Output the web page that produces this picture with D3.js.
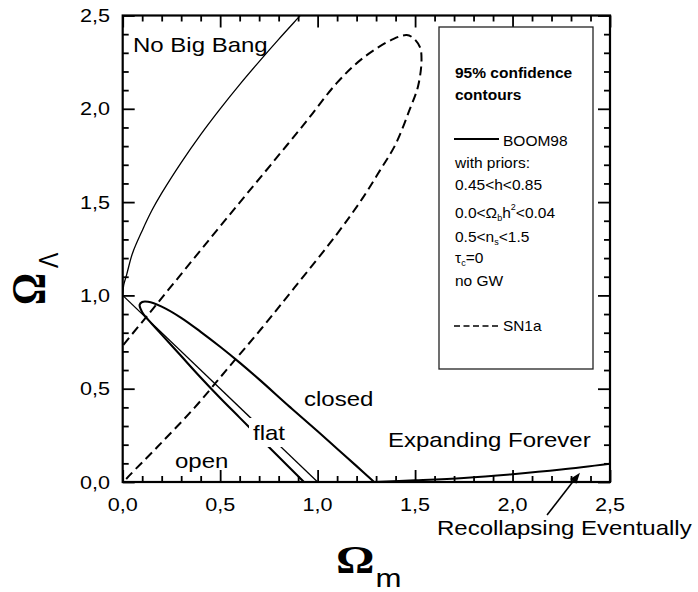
<!DOCTYPE html>
<html>
<head>
<meta charset="utf-8">
<script src="https://cdn.jsdelivr.net/npm/d3@7"></script>
<style>
  html, body { margin: 0; padding: 0; background: #fff; }
  svg { display: block; font-family: "Liberation Sans", Arial, sans-serif; }
</style>
</head>
<body>
<svg id="chart" width="698" height="592"></svg>
<script>
// ---- axis ticks ----
const majorTicks = [0, 0.5, 1.0, 1.5, 2.0, 2.5];
const minorTicks = [0.1, 0.2, 0.3, 0.4, 0.6, 0.7, 0.8, 0.9, 1.1, 1.2, 1.3, 1.4,
                    1.6, 1.7, 1.8, 1.9, 2.1, 2.2, 2.3, 2.4];
const xTickLabels = ["0,0", "0,5", "1,0", "1,5", "2,0", "2,5"];
const yTickLabels = ["0,0", "0,5", "1,0", "1,5", "2,0", "2,5"];

// ---- No Big Bang boundary (Ω_m, Ω_Λ) ----
const noBigBangM = [0, 0.005, 0.02, 0.05, 0.1, 0.15, 0.2, 0.3, 0.4, 0.5, 0.6, 0.7, 0.8, 0.9, 0.92];
const noBigBangL = [1.0, 1.055, 1.11, 1.225, 1.347, 1.456, 1.548, 1.712, 1.862, 2.0, 2.13, 2.253, 2.372, 2.487, 2.51];

// ---- flat universe line ----
const flatM = [0, 1];
const flatL = [1, 0];

// ---- Recollapse boundary ----
const recollapseM = [1.29, 1.5, 1.75, 2.0, 2.25, 2.5];
const recollapseL = [0.0, 0.009, 0.022, 0.042, 0.067, 0.098];

// ---- BOOM98 95% contour: upper and lower edges from the tip ----
const boomUpperM = [0.087, 0.1, 0.13, 0.2, 0.3, 0.4, 0.5, 0.6, 0.7, 0.86, 1.0, 1.1, 1.2, 1.29];
const boomUpperL = [0.95, 0.965, 0.966, 0.94, 0.88, 0.805, 0.725, 0.64, 0.55, 0.40, 0.272, 0.178, 0.085, 0.0];
const boomLowerM = [0.087, 0.1, 0.13, 0.2, 0.3, 0.4, 0.5, 0.6, 0.7, 0.8, 0.93];
const boomLowerL = [0.95, 0.91, 0.87, 0.79, 0.675, 0.56, 0.45, 0.345, 0.24, 0.135, 0.0];

// ---- SN1a 95% contour ----
const sn1aM = [-0.03, 0.03, 0.18, 0.37, 0.54, 0.71, 0.88, 1.10, 1.23, 1.32, 1.40, 1.47, 1.515, 1.533,
               1.525, 1.49, 1.457, 1.39, 1.23, 1.10, 0.94, 0.76, 0.59, 0.41, 0.26, 0.13, 0.0, -0.05];
const sn1aL = [-0.04, 0.03, 0.19, 0.40, 0.61, 0.82, 1.04, 1.33, 1.52, 1.67, 1.81, 1.99, 2.12, 2.26,
               2.33, 2.38, 2.395, 2.375, 2.27, 2.14, 1.93, 1.70, 1.485, 1.255, 1.063, 0.896, 0.73, 0.66];

// ---- arrow pointing at the recollapse boundary ----
const arrowM = [2.177, 2.346];
const arrowL = [-0.177, 0.05];

const zip = (a, b) => a.map((v, i) => [v, b[i]]);

const svg = d3.select("#chart");
const SX = 1.2;            // horizontal stretch of the annotation and tick text
const plot = { left: 122.7, right: 610, top: 15.5, bottom: 482 };

const x = d3.scaleLinear().domain([0, 2.5]).range([plot.left, plot.right]);
const y = d3.scaleLinear().domain([0, 2.5]).range([plot.bottom, plot.top]);

svg.append("rect").attr("width", 698).attr("height", 592).attr("fill", "#fff");

svg.append("defs").append("clipPath").attr("id", "plotClip")
  .append("rect")
  .attr("x", x(0)).attr("y", y(2.5))
  .attr("width", x(2.5) - x(0)).attr("height", y(0) - y(2.5));

const curves = svg.append("g").attr("clip-path", "url(#plotClip)");
const line = d3.line().x(d => x(d[0])).y(d => y(d[1]));
const smooth = d3.line().x(d => x(d[0])).y(d => y(d[1])).curve(d3.curveCatmullRom.alpha(0.5));

// No Big Bang boundary
curves.append("path").datum(zip(noBigBangM, noBigBangL))
  .attr("d", smooth).attr("fill", "none").attr("stroke", "#000").attr("stroke-width", 1.3);

// flat line
curves.append("path").datum(zip(flatM, flatL))
  .attr("d", line).attr("fill", "none").attr("stroke", "#000").attr("stroke-width", 1.3);

// SN1a contour
curves.append("path").datum(zip(sn1aM, sn1aL))
  .attr("d", smooth).attr("fill", "none").attr("stroke", "#000")
  .attr("stroke-width", 2).attr("stroke-dasharray", "9,5");

// BOOM98 contour
const boomPts = zip(boomLowerM, boomLowerL).reverse().concat(zip(boomUpperM, boomUpperL).slice(1));
curves.append("path").datum(boomPts)
  .attr("d", smooth).attr("fill", "none").attr("stroke", "#000").attr("stroke-width", 2.1)
  .attr("stroke-linejoin", "round");

// recollapse boundary
curves.append("path").datum(zip(recollapseM, recollapseL))
  .attr("d", smooth).attr("fill", "none").attr("stroke", "#000").attr("stroke-width", 2);

// text helper with optional horizontal stretch
function label(g, px, py, str, opts = {}) {
  const sx = opts.sx === undefined ? SX : opts.sx;
  const t = g.append("text")
    .attr("transform", `translate(${px},${py}) scale(${sx},1)`)
    .attr("font-size", opts.size || 20)
    .attr("font-weight", opts.weight || "normal")
    .attr("text-anchor", opts.anchor || "start")
    .attr("fill", "#000");
  if (str !== null) t.text(str);
  return t;
}

const ann = svg.append("g");

// "flat" label sits on a white patch that interrupts the lines beneath
ann.append("rect").attr("x", 249).attr("y", 418).attr("width", 39).attr("height", 29).attr("fill", "#fff");
label(ann, 253, 440, "flat");
label(ann, 133, 52, "No Big Bang");
label(ann, 304, 406, "closed");
label(ann, 175, 468, "open");
label(ann, 388, 447, "Expanding Forever");
label(ann, 437, 535, "Recollapsing Eventually");

// arrow
const ax0 = x(arrowM[0]), ay0 = y(arrowL[0]), ax1 = x(arrowM[1]), ay1 = y(arrowL[1]);
const ang = Math.atan2(ay1 - ay0, ax1 - ax0);
const headLen = 11, headW = 4;
const bx = ax1 - headLen * Math.cos(ang), by = ay1 - headLen * Math.sin(ang);
ann.append("line").attr("x1", ax0).attr("y1", ay0).attr("x2", bx).attr("y2", by)
  .attr("stroke", "#000").attr("stroke-width", 1.6);
ann.append("path")
  .attr("d", `M${ax1},${ay1} L${bx + headW * Math.sin(ang)},${by - headW * Math.cos(ang)} L${bx - headW * Math.sin(ang)},${by + headW * Math.cos(ang)} Z`)
  .attr("fill", "#000");

// ---- frame and ticks (all inward) ----
const axesG = svg.append("g");
function tickAxis(makeAxis, tx, ty, values, size) {
  const g = axesG.append("g").attr("transform", `translate(${tx},${ty})`)
    .call(makeAxis().tickValues(values).tickSize(-size).tickFormat(""));
  g.select(".domain").remove();
  g.selectAll(".tick line").attr("stroke", "#000").attr("stroke-width", 1.8);
}
[[() => d3.axisBottom(x), 0, y(0)], [() => d3.axisTop(x), 0, y(2.5)],
 [() => d3.axisLeft(y), x(0), 0], [() => d3.axisRight(y), x(2.5), 0]].forEach(([mk, tx, ty]) => {
  tickAxis(mk, tx, ty, majorTicks, 12);
  tickAxis(mk, tx, ty, minorTicks, 6);
});
axesG.append("rect")
  .attr("x", x(0)).attr("y", y(2.5))
  .attr("width", x(2.5) - x(0)).attr("height", y(0) - y(2.5))
  .attr("fill", "none").attr("stroke", "#000").attr("stroke-width", 2.2);

// tick labels
majorTicks.forEach((v, i) => {
  label(axesG, x(v), 511, xTickLabels[i], { size: 18, anchor: "middle" });
  label(axesG, 110, y(v) + 6.5, yTickLabels[i], { size: 18, anchor: "end" });
});

// axis titles
const xt = svg.append("text").attr("transform", `translate(336,573) scale(${SX},1)`);
xt.append("tspan").attr("font-family", "'Liberation Serif','Times New Roman',serif")
  .attr("font-weight", "bold").attr("font-size", 40).text("Ω");
xt.append("tspan").attr("font-size", 26).attr("dy", 14).attr("dx", 1).text("m");

const yt = svg.append("text").attr("transform", `translate(45,305) scale(${SX},1) rotate(-90)`);
yt.append("tspan").attr("font-family", "'Liberation Serif','Times New Roman',serif")
  .attr("font-weight", "bold").attr("font-size", 40).text("Ω");
yt.append("tspan").attr("font-size", 23).attr("dy", 11).attr("dx", 5).text("Λ");

// ---- legend ----
const lg = svg.append("g");
lg.append("rect").attr("x", 439).attr("y", 27).attr("width", 154).attr("height", 342)
  .attr("fill", "#fff").attr("stroke", "#222").attr("stroke-width", 1.3);
const LX = 455, LS = 15.5, LO = { size: 15.5, sx: 1 };
label(lg, LX, 78, "95% confidence", { size: LS, sx: 1, weight: "bold" });
label(lg, LX, 100, "contours", { size: LS, sx: 1, weight: "bold" });
lg.append("line").attr("x1", 454).attr("x2", 499).attr("y1", 139).attr("y2", 139)
  .attr("stroke", "#000").attr("stroke-width", 2);
label(lg, 503, 145.5, "BOOM98", LO);
label(lg, LX, 167.5, "with priors:", LO);
label(lg, LX, 190, "0.45<h<0.85", LO);
const p1 = label(lg, LX, 218, null, LO);
p1.append("tspan").text("0.0<Ω");
p1.append("tspan").attr("font-size", 9).attr("dy", 3).text("b");
p1.append("tspan").attr("dy", -3).text("h");
p1.append("tspan").attr("font-size", 9).attr("dy", -8).text("2");
p1.append("tspan").attr("dy", 8).text("<0.04");
const p2 = label(lg, LX, 241.5, null, LO);
p2.append("tspan").text("0.5<n");
p2.append("tspan").attr("font-size", 9).attr("dy", 3).text("s");
p2.append("tspan").attr("dy", -3).text("<1.5");
const p3 = label(lg, LX, 263, null, LO);
p3.append("tspan").text("τ");
p3.append("tspan").attr("font-size", 9).attr("dy", 3).text("c");
p3.append("tspan").attr("dy", -3).text("=0");
label(lg, LX, 286, "no GW", LO);
lg.append("line").attr("x1", 454).attr("x2", 499).attr("y1", 326).attr("y2", 326)
  .attr("stroke", "#000").attr("stroke-width", 1.6).attr("stroke-dasharray", "6,3.5");
label(lg, 503, 330.5, "SN1a", { size: 14, sx: 1.1 });
</script>
</body>
</html>
